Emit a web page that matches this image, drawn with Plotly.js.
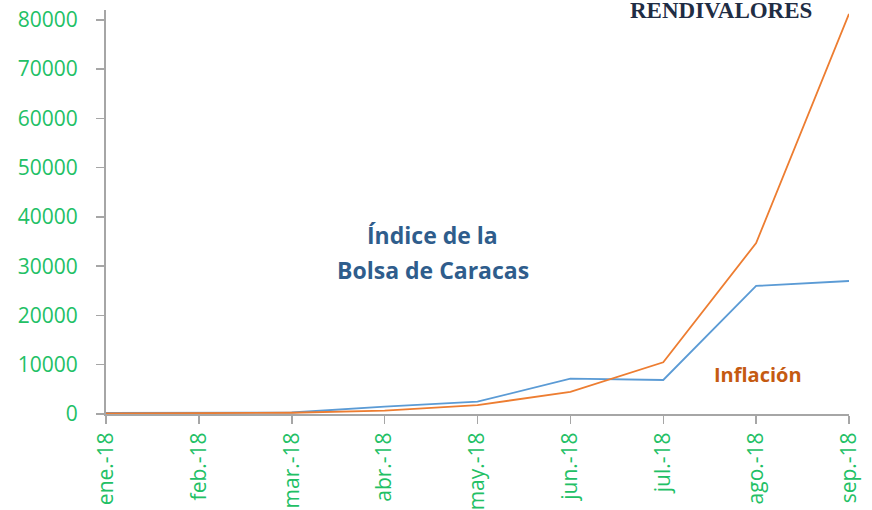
<!DOCTYPE html>
<html>
<head>
<meta charset="utf-8">
<script src="https://cdn.plot.ly/plotly-3.0.1.min.js"></script>
<style>html,body{margin:0;padding:0;background:#fff;}#chart{width:872px;height:510px;}</style>
</head>
<body>
<div id="chart"></div>
<script>
const months = ["ene.-18","feb.-18","mar.-18","abr.-18","may.-18","jun.-18","jul.-18","ago.-18","sep.-18"];
const indiceBolsa = [200, 200, 300, 1500, 2500, 7200, 6900, 26000, 27000];
const inflacion = [100, 150, 250, 700, 1800, 4500, 10500, 34700, 81200];
const yTicks = [0,10000,20000,30000,40000,50000,60000,70000,80000];

const green = "#22c065";
const traces = [
  {x: months, y: indiceBolsa, type: "scatter", mode: "lines", name: "Índice de la Bolsa de Caracas",
   line: {color: "#5b9bd5", width: 1.8}},
  {x: months, y: inflacion, type: "scatter", mode: "lines", name: "Inflación",
   line: {color: "#ed7d31", width: 1.8}}
];
const layout = {
  width: 872, height: 510,
  margin: {l: 106, r: 23, t: 10, b: 96},
  paper_bgcolor: "#fff", plot_bgcolor: "#fff",
  showlegend: false,
  font: {family: "Open Sans, sans-serif"},
  xaxis: {
    type: "category", range: [0, 8], showgrid: false, zeroline: false,
    showline: true, linecolor: "#a6a6a6", linewidth: 2,
    ticks: "outside", ticklen: 8, tickcolor: "#a6a6a6", tickwidth: 1.5,
    tickangle: -90, tickfont: {color: green, size: 21, family: "Open Sans, sans-serif"}
  },
  yaxis: {
    range: [0, 82000], tickvals: yTicks, ticktext: yTicks.map(String),
    showgrid: false, zeroline: false,
    showline: true, linecolor: "#a6a6a6", linewidth: 2,
    ticks: "outside", ticklen: 8, tickcolor: "#a6a6a6", tickwidth: 1.5,
    ticklabelstandoff: 14,
    tickfont: {color: green, size: 21, family: "Open Sans, sans-serif"}
  },
  annotations: [
    {text: "<b>RENDIVALORES</b>", xref: "paper", yref: "paper", x: 0.828, y: 1.0, xanchor: "center", yanchor: "middle",
     showarrow: false, font: {family: "Liberation Serif, serif", size: 23, color: "#1f2d44"}},
    {text: "<b>Índice de la</b>", xref: "paper", yref: "paper", x: 0.440, y: 0.444, xanchor: "center", yanchor: "middle",
     showarrow: false, font: {size: 23, color: "#2f5d8c"}},
    {text: "<b>Bolsa de Caracas</b>", xref: "paper", yref: "paper", x: 0.440, y: 0.356, xanchor: "center", yanchor: "middle",
     showarrow: false, font: {size: 23, color: "#2f5d8c"}},
    {text: "<b>Inflación</b>", xref: "paper", yref: "paper", x: 0.877, y: 0.099, xanchor: "center", yanchor: "middle",
     showarrow: false, font: {size: 20, color: "#c55a11"}}
  ]
};
Plotly.newPlot("chart", traces, layout, {displayModeBar: false, staticPlot: true});
</script>
</body>
</html>
